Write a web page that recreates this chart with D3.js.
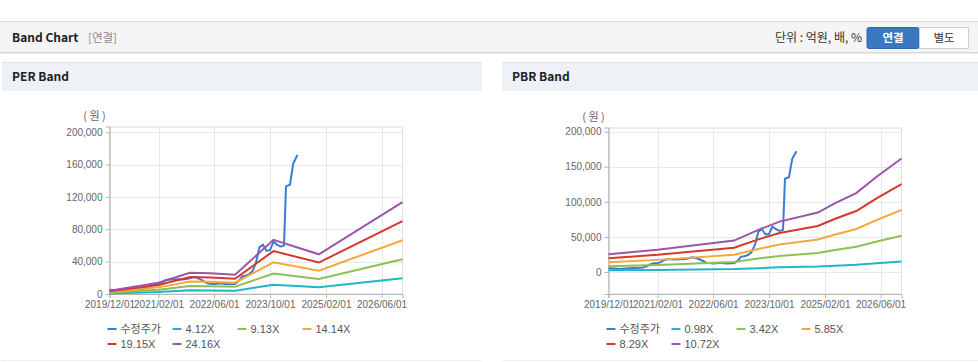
<!DOCTYPE html>
<html>
<head>
<meta charset="utf-8">
<script src="https://cdn.jsdelivr.net/npm/d3@7"></script>
<style>
  body { margin: 0; background: #fff; }
  text { font-family: "Noto Sans CJK KR", "Liberation Sans", sans-serif; }
  .tick-lbl { font-family: "Liberation Sans", Arial, sans-serif; font-size: 10px; fill: #666; }
</style>
</head>
<body>
<div id="chart"></div>
<script>
// ---- data ----
const perMultiples = [4.12, 9.13, 14.14, 19.15, 24.16];
const pbrMultiples = [0.98, 3.42, 5.85, 8.29, 10.72];

// EPS (PER band base), anchor points
const epsDates = ["2019-12-01","2021-02-01","2021-11-01","2022-05-01","2022-12-01","2023-11-01","2024-12-01","2026-12-01"];
const epsValues = [170, 580, 1090, 1060, 985, 2770, 2030, 4700];

// BPS (PBR band base), anchor points
const bpsDates = ["2019-12-01","2021-02-01","2022-12-01","2023-07-01","2024-01-01","2024-12-01","2025-05-01","2025-11-01","2026-05-01","2026-12-01"];
const bpsValues = [2350, 2950, 4180, 5600, 6700, 7900, 9150, 10490, 12700, 15100];

// 수정주가
const priceDates = ["2019-12-01","2020-01-01","2020-02-01","2020-03-01","2020-04-01","2020-05-01","2020-06-01","2020-07-01",
  "2020-08-01","2020-09-01","2020-10-01","2020-11-01","2020-12-01","2021-01-01","2021-02-01","2021-03-01","2021-04-01",
  "2021-05-01","2021-06-01","2021-07-01","2021-08-01","2021-09-01","2021-10-01","2021-11-01","2021-12-01","2022-01-01",
  "2022-02-01","2022-03-01","2022-04-01","2022-05-01","2022-06-01","2022-07-01","2022-08-01","2022-09-01","2022-10-01",
  "2022-11-01","2022-12-01","2023-01-01","2023-02-01","2023-03-01","2023-04-01","2023-05-01","2023-06-01","2023-07-01",
  "2023-08-01","2023-09-01","2023-10-01","2023-11-01","2023-12-01","2024-01-01","2024-02-01","2024-02-18","2024-03-24",
  "2024-04-21","2024-05-28"];
const priceValues = [5200, 5000, 4800, 4200, 4600, 5000, 5300, 5500,
  5800, 6000, 6500, 8200, 11000, 12500, 12400, 14000, 17100,
  18000, 18100, 17800, 18200, 18000, 18500, 19500, 21000, 20000,
  18100, 16000, 13300, 12800, 12200, 12600, 13200, 12400, 12000,
  12300, 12500, 16000, 21900, 22500, 24300, 28000, 38600, 57600,
  61000, 53500, 54000, 64800, 61000, 58600, 60000, 133000, 135000,
  161000, 172000];

const xTickDates = ["2019-12-01","2021-02-01","2022-06-01","2023-10-01","2025-02-01","2026-06-01"];
const perYTicks = [0, 40000, 80000, 120000, 160000, 200000];
const pbrYTicks = [0, 50000, 100000, 150000, 200000];
const priceName = "수정주가";

// ---- styles ----
const bandColors = ["#22b5c9", "#8cc056", "#f5a83a", "#d6382c", "#9a56a8"];
const priceColor = "#3a7bd5";

const W = 978, H = 362;
const parse = d3.timeParse("%Y-%m-%d");
const fmtDate = d3.timeFormat("%Y/%m/%d");
const fmtNum = d3.format(",");

const svg = d3.select("#chart").append("svg")
  .attr("width", W).attr("height", H);

// top bar
svg.append("rect").attr("x", 0).attr("y", 21).attr("width", W).attr("height", 31)
  .attr("fill", "#f5f5f5");
svg.append("line").attr("x1", 0).attr("x2", W).attr("y1", 21.5).attr("y2", 21.5).attr("stroke", "#dcdcdc");
svg.append("line").attr("x1", 0).attr("x2", W).attr("y1", 52.5).attr("y2", 52.5).attr("stroke", "#d8d8d8");
svg.append("line").attr("x1", 0).attr("x2", W).attr("y1", 53.5).attr("y2", 53.5).attr("stroke", "#ececec");
svg.append("text").attr("x", 12).attr("y", 42).style("font-size", "12px").style("font-weight", "bold")
  .attr("fill", "#222").text("Band Chart");
svg.append("text").attr("x", 88).attr("y", 42).style("font-size", "11.5px")
  .attr("fill", "#8a8a8a").text("[연결]");
svg.append("text").attr("x", 862).attr("y", 42).attr("text-anchor", "end").style("font-size", "12px")
  .attr("fill", "#333").text("단위 : 억원, 배, %");
svg.append("rect").attr("x", 867).attr("y", 27.5).attr("width", 52).attr("height", 21).attr("rx", 2)
  .attr("fill", "#3a78c2").attr("stroke", "#2f68ad");
svg.append("text").attr("x", 893).attr("y", 42).attr("text-anchor", "middle").style("font-size", "11.5px")
  .style("font-weight", "bold").attr("fill", "#fff").text("연결");
svg.append("rect").attr("x", 919.5).attr("y", 27.5).attr("width", 49).attr("height", 21)
  .attr("fill", "#fff").attr("stroke", "#cfcfcf");
svg.append("text").attr("x", 944).attr("y", 42).attr("text-anchor", "middle").style("font-size", "11.5px")
  .attr("fill", "#333").text("별도");

function drawBand(cfg) {
  const g = svg.append("g");
  // panel header
  g.append("rect").attr("x", cfg.px).attr("y", 62).attr("width", cfg.pw).attr("height", 29).attr("fill", "#eef2f7");
  g.append("line").attr("x1", cfg.px).attr("x2", cfg.px + cfg.pw).attr("y1", 62.5).attr("y2", 62.5).attr("stroke", "#dfe4ea");
  g.append("text").attr("x", cfg.px + 10).attr("y", 81).style("font-size", "12px").style("font-weight", "bold")
    .attr("fill", "#222").text(cfg.title);
  g.append("line").attr("x1", cfg.px).attr("x2", cfg.px + cfg.pw).attr("y1", 360.5).attr("y2", 360.5).attr("stroke", "#ececec");

  const x = d3.scaleTime()
    .domain([parse("2019-12-01"), parse("2026-12-01")])
    .range([cfg.left, cfg.right]);
  const y = d3.scaleLinear().domain(cfg.yDomain).range([cfg.bottom, cfg.top]);

  // grid
  g.append("g").selectAll("line").data(cfg.yTicks).join("line")
    .attr("x1", cfg.left).attr("x2", cfg.right)
    .attr("y1", d => Math.round(y(d)) + 0.5).attr("y2", d => Math.round(y(d)) + 0.5)
    .attr("stroke", "#e8e8e8");
  g.append("g").selectAll("line").data(xTickDates).join("line")
    .attr("x1", d => Math.round(x(parse(d))) + 0.5).attr("x2", d => Math.round(x(parse(d))) + 0.5)
    .attr("y1", cfg.top).attr("y2", cfg.bottom)
    .attr("stroke", "#e8e8e8");
  g.append("rect").attr("x", cfg.left).attr("y", cfg.top + 0.5)
    .attr("width", cfg.right - cfg.left).attr("height", cfg.bottom - cfg.top - 0.5)
    .attr("fill", "none").attr("stroke", "#dedede");

  // axes
  const ax = g.append("g").attr("transform", `translate(0,${cfg.bottom})`)
    .call(d3.axisBottom(x).tickValues(xTickDates.map(parse)).tickFormat(fmtDate).tickSize(4).tickPadding(3));
  ax.select(".domain").attr("stroke", "#b5b5b5");
  ax.selectAll(".tick line").attr("stroke", "#b5b5b5");
  ax.selectAll(".tick text").attr("class", "tick-lbl");

  const ay = g.append("g").attr("transform", `translate(${cfg.left},0)`)
    .call(d3.axisLeft(y).tickValues(cfg.yTicks).tickFormat(fmtNum).tickSize(4).tickPadding(3));
  ay.select(".domain").attr("stroke", "#b5b5b5");
  ay.selectAll(".tick line").attr("stroke", "#b5b5b5");
  ay.selectAll(".tick text").attr("class", "tick-lbl");

  g.append("text").attr("x", cfg.left - 15).attr("y", cfg.top - 7).attr("text-anchor", "middle")
    .style("font-size", "11px").attr("fill", "#666").text("( 원 )");

  // price first (it sits under the band lines), then the bands
  const line = d3.line().x(d => x(d[0])).y(d => y(d[1]));
  g.append("path")
    .datum(priceDates.map((d, i) => [parse(d), priceValues[i]]))
    .attr("d", line)
    .attr("fill", "none").attr("stroke", priceColor).attr("stroke-width", 2)
    .attr("stroke-linejoin", "round");
  const base = cfg.baseDates.map((d, i) => [parse(d), cfg.baseValues[i]]);
  cfg.multiples.forEach((m, k) => {
    g.append("path")
      .datum(base.map(p => [p[0], p[1] * m]))
      .attr("d", line)
      .attr("fill", "none").attr("stroke", bandColors[k]).attr("stroke-width", 2);
  });

  // legend
  const names = [priceName].concat(cfg.multiples.map(m => m.toFixed(2) + "X"));
  const colors = [priceColor].concat(bandColors);
  const lg = g.append("g");
  names.forEach((n, i) => {
    const col = i % 4, row = Math.floor(i / 4);
    const lx = cfg.left - 2 + col * 65, ly = 329 + row * 15;
    lg.append("line").attr("x1", lx).attr("x2", lx + 9).attr("y1", ly).attr("y2", ly)
      .attr("stroke", colors[i]).attr("stroke-width", 2);
    lg.append("text").attr("x", lx + 13).attr("y", ly + 4)
      .style("font-size", "11px").attr("fill", "#555")
      .style("font-family", i === 0 ? "'Noto Sans CJK KR', sans-serif" : "'Liberation Sans', Arial, sans-serif")
      .text(n);
  });
}

drawBand({
  title: "PER Band", px: 2, pw: 480,
  left: 109.5, right: 402.5, top: 126.5, bottom: 294,
  yDomain: [0, 207000], yTicks: perYTicks,
  baseDates: epsDates, baseValues: epsValues, multiples: perMultiples
});
drawBand({
  title: "PBR Band", px: 502, pw: 476,
  left: 608.5, right: 901.5, top: 127.5, bottom: 294,
  yDomain: [-31400, 206000], yTicks: pbrYTicks,
  baseDates: bpsDates, baseValues: bpsValues, multiples: pbrMultiples
});
</script>
</body>
</html>
